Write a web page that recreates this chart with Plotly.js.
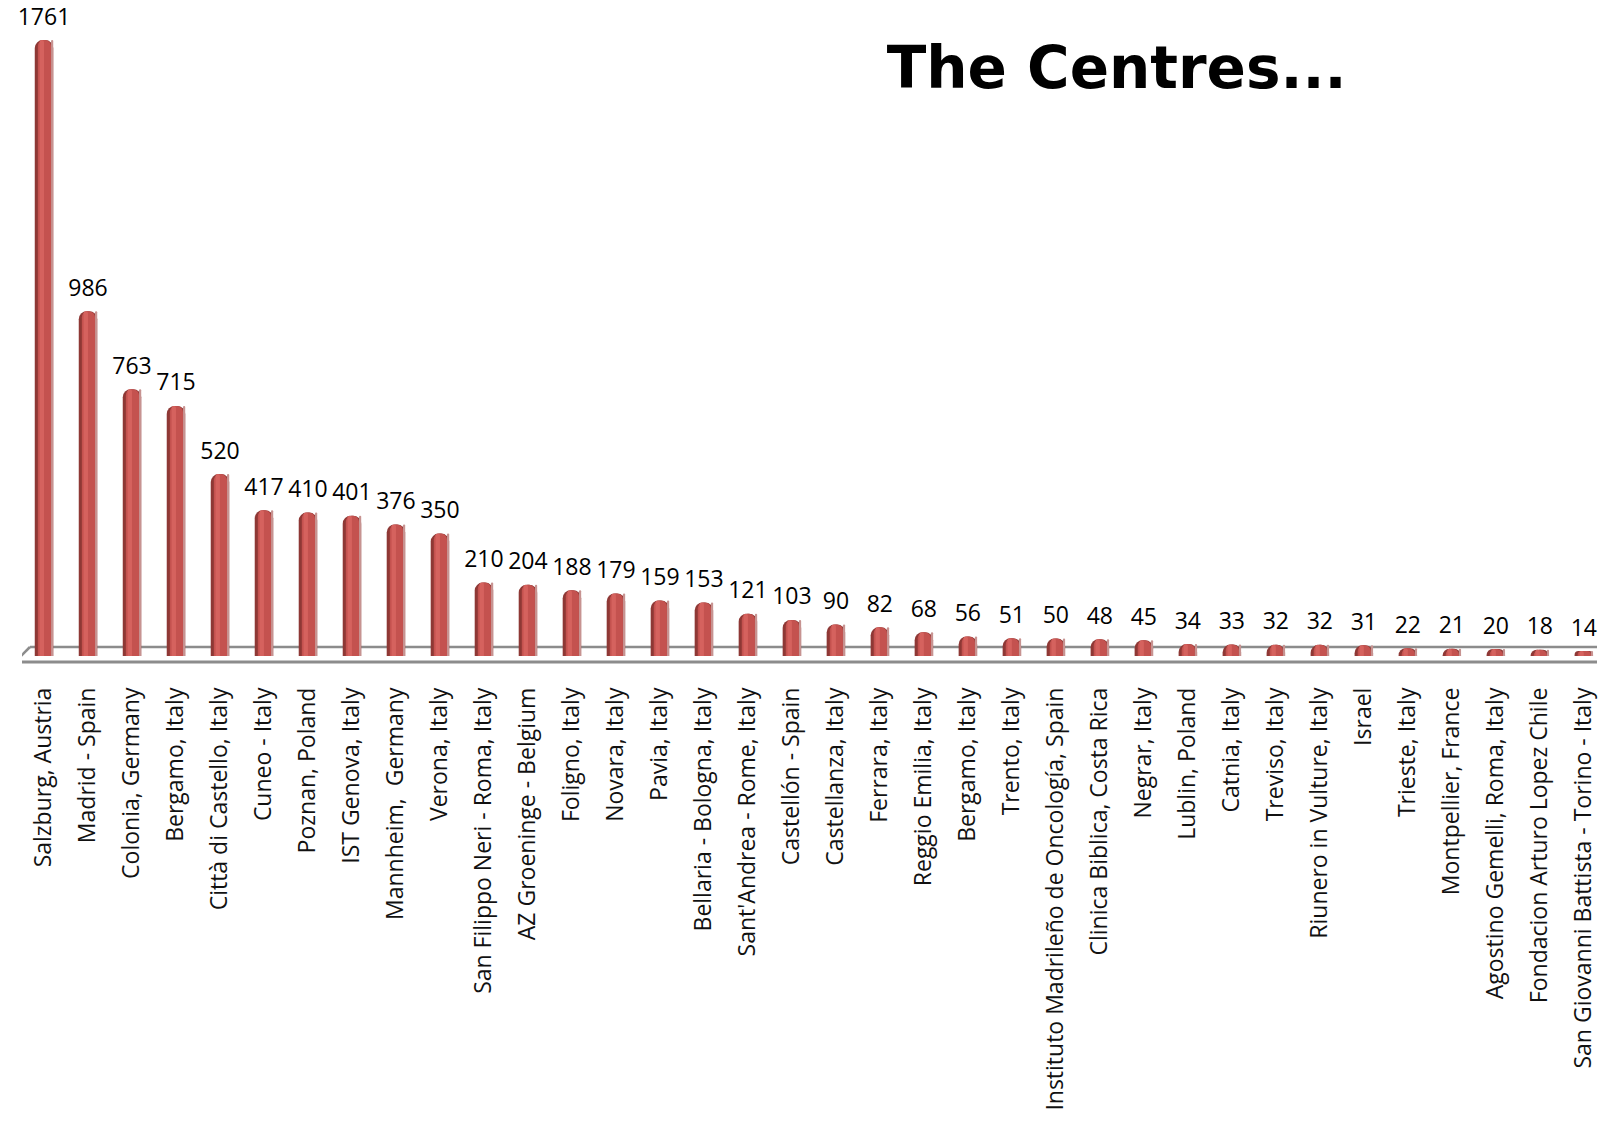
<!DOCTYPE html>
<html>
<head>
<meta charset="utf-8">
<script src="https://cdn.plot.ly/plotly-3.0.1.min.js"></script>
<style>html,body{margin:0;padding:0;background:#fff;}#chart{width:1599px;height:1124px;}</style>
</head>
<body>
<div id="chart"></div>
<script>
const centres = [
  "Salzburg, Austria", "Madrid - Spain", "Colonia, Germany", "Bergamo, Italy",
  "Città di Castello, Italy", "Cuneo - Italy", "Poznan, Poland", "IST Genova, Italy",
  "Mannheim,  Germany", "Verona, Italy", "San Filippo Neri - Roma, Italy",
  "AZ Groeninge - Belgium", "Foligno, Italy", "Novara, Italy", "Pavia, Italy",
  "Bellaria - Bologna, Italy", "Sant'Andrea - Rome, Italy", "Castellón - Spain",
  "Castellanza, Italy", "Ferrara, Italy", "Reggio Emilia, Italy", "Bergamo, Italy",
  "Trento, Italy", "Instituto Madrileño de Oncología, Spain", "Clinica Biblica, Costa Rica",
  "Negrar, Italy", "Lublin, Poland", "Catnia, Italy", "Treviso, Italy",
  "Riunero in Vulture, Italy", "Israel", "Trieste, Italy", "Montpellier, France",
  "Agostino Gemelli, Roma, Italy", "Fondacion Arturo Lopez Chile",
  "San Giovanni Battista - Torino - Italy"
];
const patients = [
  1761, 986, 763, 715, 520, 417, 410, 401, 376, 350, 210, 204, 188, 179, 159, 153,
  121, 103, 90, 82, 68, 56, 51, 50, 48, 45, 34, 33, 32, 32, 31, 22, 21, 20, 18, 14
];
const positions = centres.map((_, i) => i);
const titleText = "The Centres...";

const traces = [
  {type: 'bar', x: positions, y: patients, width: 0.42,
   marker: {color: '#8e3835', cornerradius: 8, line: {width: 0}}, hoverinfo: 'skip'},
  {type: 'bar', x: positions, y: patients, width: 0.30, offset: -0.14,
   marker: {color: '#c4524f', cornerradius: 6, line: {width: 0}}, hoverinfo: 'skip'},
  {type: 'bar', x: positions, y: patients, width: 0.10, offset: -0.10,
   marker: {color: '#d5625e', cornerradius: 4, line: {width: 0}}, hoverinfo: 'skip'},
  {type: 'bar', x: positions, y: patients, width: 0.05, offset: 0.16,
   marker: {color: '#c79391', cornerradius: 2, line: {width: 0}}, hoverinfo: 'skip'},
  {type: 'scatter', mode: 'markers+text', x: positions, y: patients,
   text: patients.map(String), textposition: 'top center',
   marker: {size: 14, opacity: 0},
   textfont: {family: 'Open Sans, sans-serif', size: 23, color: '#000'},
   cliponaxis: false, hoverinfo: 'skip'}
];

const layout = {
  width: 1599, height: 1124,
  paper_bgcolor: '#fff', plot_bgcolor: '#fff',
  margin: {l: 22, r: 2, t: 10, b: 460},
  barmode: 'overlay',
  showlegend: false,
  title: {
    text: titleText, xref: 'paper', yref: 'container',
    x: 0.695, xanchor: 'center', y: 0.94, yanchor: 'middle',
    font: {family: 'Comic Sans MS, DejaVu Sans, sans-serif', size: 58, color: '#000', weight: 'bold'}
  },
  xaxis: {
    range: [-0.5, 35.3],
    tickmode: 'array', tickvals: positions, ticktext: centres,
    tickangle: -90, ticks: '', showgrid: false, zeroline: false, showline: false,
    ticklabelstandoff: 18,
    tickfont: {family: 'Open Sans, sans-serif', size: 23, color: '#111'}
  },
  yaxis: {
    range: [-22.9, 1847], visible: false, showgrid: false, zeroline: false, fixedrange: true
  },
  shapes: [
    {type: 'line', xref: 'x', yref: 'y', x0: -0.32, x1: 35.3, y0: 25.7, y1: 25.7,
     line: {color: '#8c8c8c', width: 2.5}, layer: 'below'},
    {type: 'line', xref: 'x', yref: 'y', x0: -0.66, x1: 35.3, y0: -17.2, y1: -17.2,
     line: {color: '#8c8c8c', width: 3}, layer: 'below'},
    {type: 'line', xref: 'x', yref: 'y', x0: -0.66, x1: -0.32, y0: -17.2, y1: 25.7,
     line: {color: '#8c8c8c', width: 2.5}, layer: 'below'}
  ]
};

Plotly.newPlot('chart', traces, layout, {displayModeBar: false, staticPlot: true});
</script>
</body>
</html>
